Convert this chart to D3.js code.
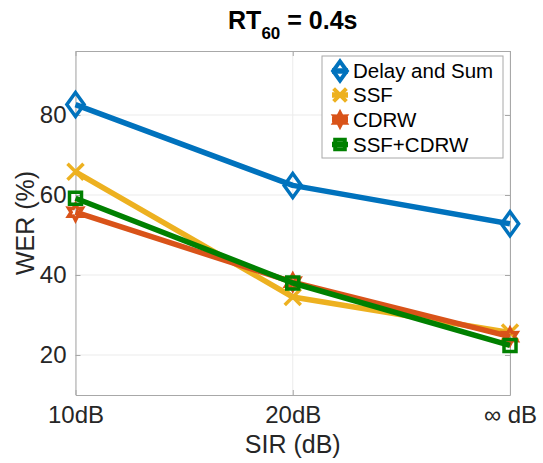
<!DOCTYPE html>
<html><head><meta charset="utf-8">
<script src="https://cdn.jsdelivr.net/npm/d3@7"></script>
<style>body{margin:0;background:#fff;} text{font-family:"Liberation Sans",Arial,Helvetica,sans-serif;}</style>
</head><body><svg id="c" width="543" height="463"></svg>
<script>
const categories = ["10dB", "20dB", "∞ dB"];
const yTicks = [20, 40, 60, 80];
const seriesNames = ["Delay and Sum", "SSF", "CDRW", "SSF+CDRW"];
const delayAndSum = [82.6, 62.4, 52.8];
const ssf = [65.8, 34.5, 25.6];
const cdrw = [55.7, 38.2, 24.6];
const ssfCdrw = [59.2, 38.0, 22.4];
const colors = ["#0072BD", "#EDB120", "#D95319", "#008000"];
const markers = ["diamond", "x", "hexagram", "square"];
const allSeries = [delayAndSum, ssf, cdrw, ssfCdrw];

const W = 543, H = 463;
const m = {left: 75.5, right: 33, top: 51, bottom: 68};
const svg = d3.select("#c");
const x = d3.scalePoint().domain(categories).range([m.left, W - m.right]);
const y = d3.scaleLinear().domain([10, 96]).range([H - m.bottom, m.top]);
const x0 = m.left, x1 = W - m.right, y0 = H - m.bottom, y1 = m.top;

// grid
const g = svg.append("g");
g.selectAll(".gy").data(yTicks).enter().append("line")
  .attr("x1", x0).attr("x2", x1).attr("y1", d => y(d)).attr("y2", d => y(d))
  .attr("stroke", "#ebebeb").attr("stroke-width", 1);
g.selectAll(".gx").data(categories).enter().append("line")
  .attr("x1", d => x(d)).attr("x2", d => x(d)).attr("y1", y0).attr("y2", y1)
  .attr("stroke", "#ebebeb").attr("stroke-width", 1);

// axes via d3
const axisColor = "#a8a8a8";
const gl = svg.append("g").attr("transform", `translate(${x0},0)`)
  .call(d3.axisLeft(y).tickValues(yTicks).tickSizeInner(-5).tickSizeOuter(0).tickPadding(9));
const gr = svg.append("g").attr("transform", `translate(${x1},0)`)
  .call(d3.axisRight(y).tickValues(yTicks).tickSizeInner(-5).tickSizeOuter(0).tickFormat(""));
const gb = svg.append("g").attr("transform", `translate(0,${y0})`)
  .call(d3.axisBottom(x).tickSizeInner(-5).tickSizeOuter(0).tickPadding(11));
const gt = svg.append("g").attr("transform", `translate(0,${y1})`)
  .call(d3.axisTop(x).tickSizeInner(-5).tickSizeOuter(0).tickFormat(""));
[gl, gr, gb, gt].forEach(a => {
  a.select(".domain").attr("stroke", axisColor);
  a.selectAll(".tick line").attr("stroke", axisColor);
  a.selectAll(".tick text").attr("fill", "#262626").style("font-size", "24px")
    .style("font-family", "'Liberation Sans',Arial,Helvetica,sans-serif");
});
gb.selectAll(".tick text").attr("dy", "0.71em");

// marker paths
function markerPath(type, s) {
  if (type === "diamond") {
    const w = s * 0.72, h = s;
    return `M0,${-h}L${w},0L0,${h}L${-w},0Z`;
  }
  if (type === "x") {
    return `M${-s},${-s}L${s},${s}M${-s},${s}L${s},${-s}`;
  }
  if (type === "square") {
    return `M${-s},${-s}H${s}V${s}H${-s}Z`;
  }
  if (type === "hexagram") {
    let p = "";
    for (let i = 0; i < 12; i++) {
      const r = i % 2 === 0 ? s : s * 0.55;
      const a = Math.PI / 2 + i * Math.PI / 6;
      p += (i === 0 ? "M" : "L") + (r * Math.cos(a)).toFixed(2) + "," + (-r * Math.sin(a)).toFixed(2);
    }
    return p + "Z";
  }
}
const markerSize = {diamond: 12, x: 8, hexagram: 8, square: 6};

const line = d3.line().x((d, i) => x(categories[i])).y(d => y(d));
allSeries.forEach((vals, k) => {
  const sg = svg.append("g");
  sg.append("path").datum(vals).attr("d", line)
    .attr("fill", "none").attr("stroke", colors[k]).attr("stroke-width", 5.5)
    .attr("stroke-linejoin", "round");
  sg.selectAll(".mk").data(vals).enter().append("path")
    .attr("transform", (d, i) => `translate(${x(categories[i])},${y(d)})`)
    .attr("d", markerPath(markers[k], markerSize[markers[k]]))
    .attr("fill", "none").attr("stroke", colors[k]).attr("stroke-width", 3.5)
    .attr("stroke-linejoin", "miter");
});

// legend
const lg = svg.append("g");
lg.append("rect").attr("x", 322).attr("y", 56).attr("width", 181).attr("height", 102)
  .attr("fill", "#fff").attr("stroke", "#a8a8a8").attr("stroke-width", 1);
const rowY = [71, 95, 119.5, 144.5];
seriesNames.forEach((name, k) => {
  const cy = rowY[k];
  lg.append("line").attr("x1", 332).attr("x2", 348).attr("y1", cy).attr("y2", cy)
    .attr("stroke", colors[k]).attr("stroke-width", 5.5);
  lg.append("path").attr("transform", `translate(340,${cy})`)
    .attr("d", markerPath(markers[k], markerSize[markers[k]] * 0.8))
    .attr("fill", "none").attr("stroke", colors[k]).attr("stroke-width", 4);
  lg.append("text").attr("x", 353).attr("y", cy).attr("dy", "0.36em")
    .style("font-size", "20.5px").attr("fill", "#000").text(name);
});

// title
const t = svg.append("text").attr("x", (x0 + x1) / 2).attr("y", 29)
  .attr("text-anchor", "middle").style("font-size", "25px").style("font-weight", "bold").attr("fill", "#000");
t.append("tspan").text("RT");
t.append("tspan").attr("dy", 10).style("font-size", "17px").text("60");
t.append("tspan").attr("dy", -10).text(" = 0.4s");

// axis labels
svg.append("text").attr("x", (x0 + x1) / 2).attr("y", 453).attr("text-anchor", "middle")
  .style("font-size", "25px").attr("fill", "#262626").text("SIR (dB)");
svg.append("text").attr("transform", `translate(34,${(y0 + y1) / 2}) rotate(-90)`)
  .attr("text-anchor", "middle").style("font-size", "25px").attr("fill", "#262626").text("WER (%)");
</script></body></html>
